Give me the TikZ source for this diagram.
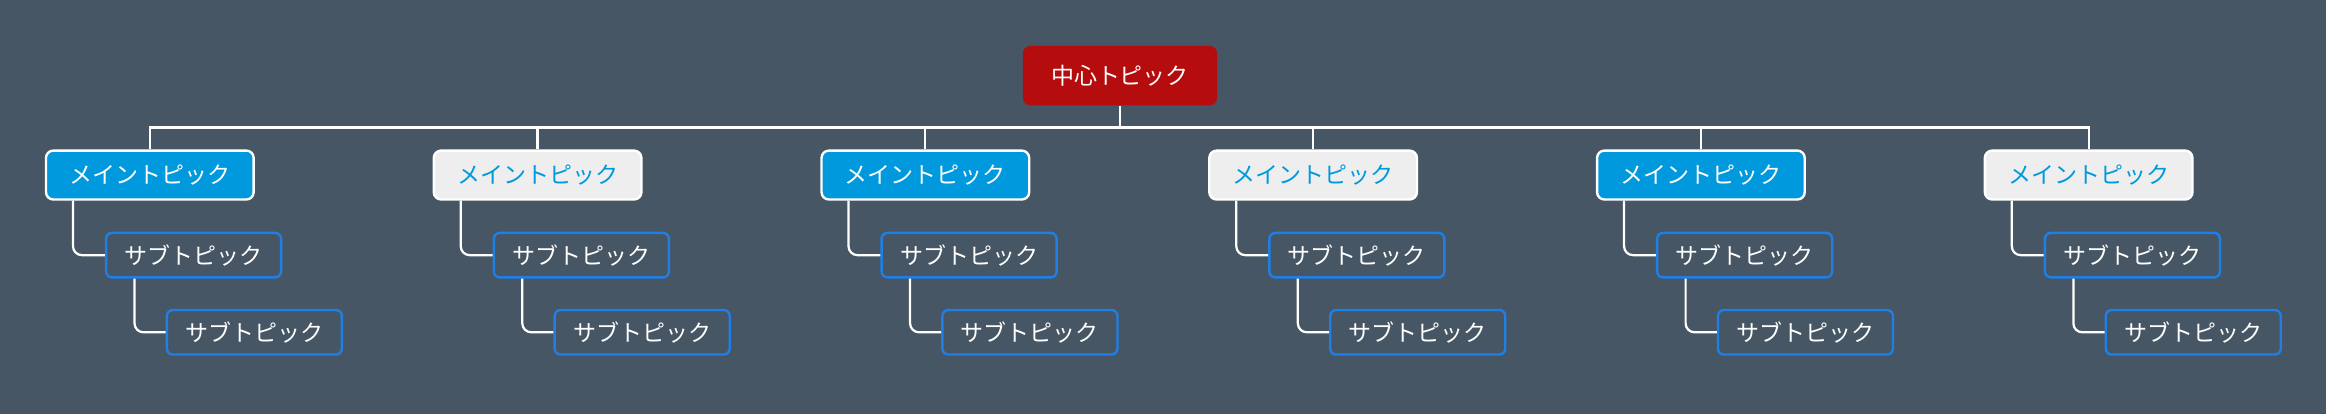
\documentclass[tikz,border=0pt]{standalone}
\usepackage{fontspec}
\newfontfamily\jpfont{Noto Sans CJK JP}
\begin{document}
\begin{tikzpicture}[x=1pt,y=-1pt,font=\jpfont\fontsize{15.5}{18}\selectfont]
	% Define colors
	\definecolor{bgcolor}{RGB}{71, 86, 100}
	\definecolor{rootcolor}{RGB}{181, 13, 13}
	\definecolor{maincolor}{RGB}{0, 153, 221}
	\definecolor{lightcolor}{RGB}{238, 238, 238}
	\definecolor{subcolor}{RGB}{30, 127, 230}
	\tikzset{
		rootbox/.style={fill=rootcolor, text=white, rounded corners=5pt, minimum width=131pt, minimum height=40pt},
		mainbox/.style={draw=white, line width=1.6pt, rounded corners=5pt, minimum width=140pt, minimum height=33pt},
		subbox/.style={draw=subcolor, line width=1.6pt, rounded corners=4pt, text=white, minimum width=118pt, minimum height=30pt},
		link/.style={draw=white, line width=1.5pt, rounded corners=6pt}
	}
	
	% Background
	\fill[bgcolor] (0,0) rectangle (1568,279);
	
	% Root
	\node[rootbox] (root) at (755,51) {中心トピック};
	\coordinate (bus) at (755,86);
	\draw[link] (root.south) -- (bus);
	
	% Main topics with sub topics
	\foreach \i in {0,...,5} {
		\pgfmathsetmacro{\mx}{101+261.4*\i}
		\ifodd\i
			\node[mainbox, fill=lightcolor, text=maincolor] (main\i) at (\mx,118) {メイントピック};
		\else
			\node[mainbox, fill=maincolor, text=white] (main\i) at (\mx,118) {メイントピック};
		\fi
		\node[subbox] (suba\i) at (\mx+29.5,172) {サブトピック};
		\node[subbox] (subb\i) at (\mx+70.5,224) {サブトピック};
		\draw[link, rounded corners=0pt] (bus) -| (main\i.north);
		\draw[link] ([xshift=19pt]main\i.south west) |- (suba\i.west);
		\draw[link] ([xshift=20pt]suba\i.south west) |- (subb\i.west);
	}
\end{tikzpicture}
\end{document}
